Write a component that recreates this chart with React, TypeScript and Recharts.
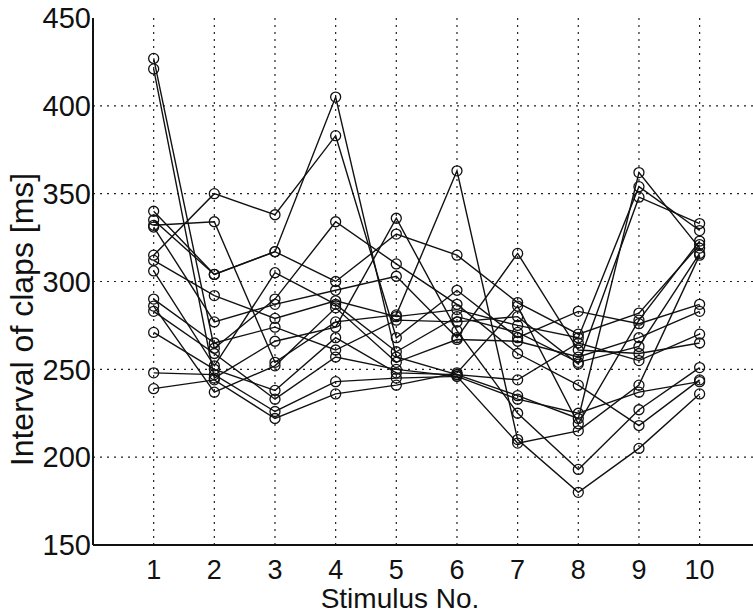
import { LineChart, Line, XAxis, YAxis, CartesianGrid } from "recharts";

const stimuli = [1, 2, 3, 4, 5, 6, 7, 8, 9, 10];

// one array per subject, interval of claps in ms for stimulus 1..10
const subjA = [427, 262, 290, 334, 310, 287, 259, 241, 218, 244];
const subjB = [421, 245, 266, 274, 336, 272, 225, 193, 227, 251];
const subjC = [340, 304, 317, 405, 257, 247, 235, 222, 362, 319];
const subjD = [335, 304, 317, 300, 327, 315, 288, 270, 282, 321];
const subjE = [332, 334, 254, 277, 281, 363, 210, 180, 205, 236];
const subjF = [331, 277, 287, 295, 303, 268, 316, 261, 259, 265];
const subjG = [315, 350, 338, 383, 268, 295, 268, 283, 276, 287];
const subjH = [312, 292, 279, 289, 280, 284, 275, 268, 354, 329];
const subjI = [306, 252, 305, 287, 260, 280, 271, 254, 263, 316];
const subjJ = [290, 265, 274, 261, 278, 277, 280, 253, 348, 333];
const subjK = [286, 237, 252, 285, 254, 267, 266, 257, 268, 283];
const subjL = [283, 259, 233, 257, 250, 246, 208, 215, 241, 315];
const subjM = [271, 250, 238, 268, 248, 247, 244, 265, 255, 270];
const subjN = [248, 247, 226, 243, 245, 246, 233, 225, 237, 243];
const subjO = [239, 244, 222, 236, 241, 248, 286, 219, 278, 323];

const subjects = [
  subjA, subjB, subjC, subjD, subjE, subjF, subjG, subjH,
  subjI, subjJ, subjK, subjL, subjM, subjN, subjO,
];

const xTicks = [1, 2, 3, 4, 5, 6, 7, 8, 9, 10];
const yTicks = [150, 200, 250, 300, 350, 400, 450];
const yGrid = [200, 250, 300, 350, 400];
// the original axes run past the right edge of the scan, so the visible part ends near 10.9
const X_DOMAIN = [0, 10.88];
const Y_DOMAIN = [150, 450];

const data = stimuli.map((s, i) => {
  const row: Record<string, number> = { stim: s };
  subjects.forEach((vals, k) => {
    row[`s${k}`] = vals[i];
  });
  return row;
});

const FONT = "'Liberation Sans', Arial, Helvetica, sans-serif";

function OpenDot(props: any) {
  const { cx, cy } = props;
  if (cx == null || cy == null) return null;
  return <circle cx={cx} cy={cy} r={5} fill="none" stroke="#111" strokeWidth={1.3} />;
}

// grid lines only at the labelled ticks (no line on the plot edges)
const gridX = (p: any) => {
  const o = p.offset;
  return xTicks.map(
    (t) => o.left + ((t - X_DOMAIN[0]) / (X_DOMAIN[1] - X_DOMAIN[0])) * o.width
  );
};
const gridY = (p: any) => {
  const o = p.offset;
  return yGrid.map(
    (t) => o.top + ((Y_DOMAIN[1] - t) / (Y_DOMAIN[1] - Y_DOMAIN[0])) * o.height
  );
};

export default function App() {
  return (
    <div
      style={{
        position: "fixed",
        left: 0,
        top: 0,
        width: 753,
        height: 613,
        overflow: "hidden",
        background: "#fff",
      }}
    >
      <LineChart
        width={753}
        height={613}
        data={data}
        margin={{ top: 18, right: 0, left: 0, bottom: 0 }}
      >
        <CartesianGrid
          stroke="#222"
          strokeDasharray="2 5"
          strokeWidth={1.2}
          verticalCoordinatesGenerator={gridX}
          horizontalCoordinatesGenerator={gridY}
        />
        <XAxis
          dataKey="stim"
          type="number"
          domain={X_DOMAIN}
          ticks={xTicks}
          height={68}
          tickLine={false}
          tickSize={0}
          tickMargin={15}
          allowDataOverflow
          axisLine={{ stroke: "#111", strokeWidth: 2 }}
          tick={{ fill: "#111", fontSize: 27, fontFamily: FONT }}
          label={{
            value: "Stimulus No.",
            position: "insideBottom",
            offset: 5,
            dx: -23,
            fill: "#111",
            fontSize: 28,
            fontFamily: FONT,
          }}
        />
        <XAxis
          xAxisId="top"
          orientation="top"
          dataKey="stim"
          type="number"
          domain={X_DOMAIN}
          allowDataOverflow
          height={0}
          tick={false}
          tickLine={false}
          axisLine={{ stroke: "#111", strokeWidth: 2 }}
        />
        <YAxis
          type="number"
          domain={Y_DOMAIN}
          ticks={yTicks}
          width={93}
          tickLine={false}
          tickSize={0}
          tickMargin={2}
          allowDataOverflow
          axisLine={{ stroke: "#111", strokeWidth: 2 }}
          tick={{ fill: "#111", fontSize: 29, fontFamily: FONT }}
          label={{
            value: "Interval of claps [ms]",
            angle: -90,
            position: "center",
            dx: -25,
            dy: 38,
            fill: "#111",
            fontSize: 32,
            fontFamily: FONT,
          }}
        />
        {subjects.map((_, k) => (
          <Line
            key={k}
            dataKey={`s${k}`}
            stroke="#111"
            strokeWidth={1.4}
            dot={<OpenDot />}
            activeDot={false}
            isAnimationActive={false}
          />
        ))}
      </LineChart>
    </div>
  );
}
